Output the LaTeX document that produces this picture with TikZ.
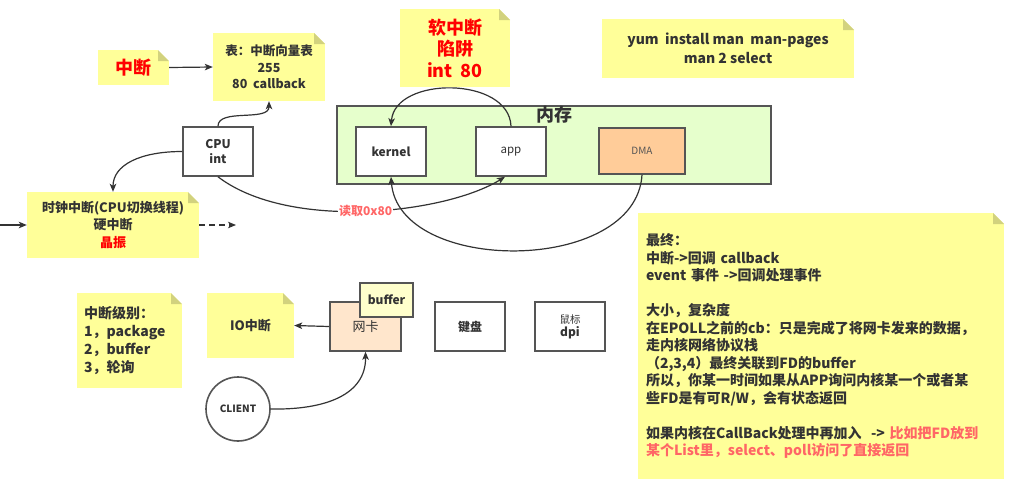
\documentclass[tikz,border=0pt]{standalone}
\usepackage{fontspec}
\setmainfont{Noto Sans CJK SC}
\usetikzlibrary{arrows.meta}
\definecolor{noteY}{HTML}{FFFF99}
\definecolor{foldc}{HTML}{D2D27E}
\definecolor{boxc}{HTML}{555555}
\definecolor{txt}{HTML}{333333}
\definecolor{linec}{HTML}{333333}
\definecolor{memg}{HTML}{E6FFCC}
\definecolor{dmac}{HTML}{FFCC99}
\definecolor{nicc}{HTML}{FFE6CC}
\definecolor{bufc}{HTML}{FFFFCC}
\definecolor{lred}{HTML}{FF6666}
\definecolor{hred}{HTML}{FF0000}
\tikzset{
  fnt/.style 2 args={font=\fontsize{#1}{#2}\selectfont\bfseries},
  fntr/.style 2 args={font=\fontsize{#1}{#2}\selectfont},
  notebox/.style={fill=noteY, inner sep=0pt, align=center, text=txt,
    path picture={
      \fill[white] ([xshift=-11pt]path picture bounding box.north east) -- (path picture bounding box.north east) -- ([yshift=-11pt]path picture bounding box.north east) -- cycle;
      \fill[foldc] ([xshift=-11pt]path picture bounding box.north east) -- ([xshift=-11pt,yshift=-11pt]path picture bounding box.north east) -- ([yshift=-11pt]path picture bounding box.north east) -- cycle;
    }},
  plainbox/.style={draw=boxc, line width=1.6pt, fill=white, inner sep=0pt, align=center, text=txt},
  conn/.style={draw=linec, line width=1.2pt, -{Stealth[length=8pt,width=6.5pt,inset=2pt]}},
}
\begin{document}
\begin{tikzpicture}[x=1pt,y=-1pt]
\useasboundingbox[fill=white] (0,0) rectangle (1017,493);

% notes top
\node[notebox, minimum width=71pt, minimum height=35pt, fnt={18}{20}, text=hred] (zd) at (133.5,67.5) {中断};
\node[notebox, minimum width=112pt, minimum height=68pt, fnt={12.5}{16.5}] (tbl) at (269,67) {表：中断向量表\\255\\80\ \ callback};
\node[notebox, minimum width=110pt, minimum height=78pt, fnt={18}{21.5}, text=hred] (soft) at (455,48) {软中断\\陷阱\\int\ \ 80};
\node[notebox, minimum width=252pt, minimum height=59pt, fnt={14}{19}] (yum) at (728,48.5) {yum\ \ install man\ \ man-pages\\man 2 select};

% CPU and clock
\node[plainbox, minimum width=70pt, minimum height=49pt, fnt={12}{14.5}] (cpu) at (218,151.5) {CPU\\int};
\node[notebox, minimum width=172pt, minimum height=66pt, fnt={13}{17.5}] (clk) at (113,225) {时钟中断(CPU切换线程)\\硬中断\\\textcolor{hred}{晶振}};

% memory
\node[draw=boxc, line width=1.6pt, fill=memg, minimum width=434pt, minimum height=78pt, inner sep=0pt,
  label={[fnt={18}{20}, text=txt, anchor=north, inner sep=1pt]north:内存}] (mem) at (554,145) {};
\node[plainbox, minimum width=70pt, minimum height=49pt, fnt={12}{14}] (kernel) at (391,151.5) {kernel};
\node[plainbox, minimum width=70pt, minimum height=49pt, fntr={11.5}{14}] (app) at (511,151.5) {app};
\node[plainbox, fill=dmac, minimum width=86pt, minimum height=46pt, fntr={10}{12}, text=boxc] (dma) at (642,151) {DMA};

% big note
\node[notebox, minimum width=366pt, minimum height=266pt, text width=350pt, align=left, fnt={14}{17.5}] (fin) at (821,346) {最终：\\
中断->回调 callback\\
event 事件 ->回调处理事件\\
~\\
大小，复杂度\\
在EPOLL之前的cb：只是完成了将网卡发来的数据，\\
走内核网络协议栈\\
（2,3,4）最终关联到FD的buffer\\
所以，你某一时间如果从APP询问内核某一个或者某\\
些FD是有可R/W，会有状态返回\\
~\\
如果内核在CallBack处理中再加入\ \ -> \textcolor{lred}{比如把FD放到}\\
\textcolor{lred}{某个List里，select、poll访问了直接返回}};

% bottom left
\node[notebox, minimum width=105pt, minimum height=95pt, text width=91pt, align=left, fnt={14}{18}] (lvl) at (129.5,340.5) {中断级别：\\1，package\\2，buffer\\3，轮询};
\node[notebox, minimum width=87pt, minimum height=65pt, fnt={13}{16}] (io) at (250.5,325.5) {IO中断};
\node[plainbox, fill=nicc, minimum width=71pt, minimum height=49pt, fntr={13}{16}] (nic) at (365.5,326.5) {网卡};
\node[plainbox, fill=bufc, minimum width=53pt, minimum height=34pt, fnt={12}{14}] (buf) at (386.5,300) {buffer};
\node[plainbox, minimum width=70pt, minimum height=49pt, fnt={12}{14}] (kb) at (470,326.5) {键盘};
\node[plainbox, minimum width=70pt, minimum height=49pt, fnt={12}{13}] (mouse) at (570,326.5) {{\fontsize{10.5}{13}\selectfont\mdseries 鼠标}\\dpi};
\node[draw=boxc, line width=1.6pt, fill=white, circle, minimum size=64pt, inner sep=0pt, fnt={10}{12}, text=txt] (client) at (238,409) {CLIENT};

% connectors
\coordinate (lstub) at (0,225);
\coordinate (dend) at (236,225);
\draw[conn] (zd.east) -- (tbl.west);
\draw[conn] (cpu.north) .. controls (218,108) and (269,122) .. (tbl.south);
\draw[conn] (cpu.west) .. controls (140,151.5) and (113,165) .. (clk.north);
\draw[conn] (lstub) -- (clk.west);
\draw[conn, dash pattern=on 6pt off 4pt] (clk.east) -- (dend);
\draw[conn] (cpu.south) .. controls (289,231) and (445,214) .. ([xshift=-6pt]app.south)
  node[pos=0.5, fill=white, inner sep=1pt, text=lred, fnt={12}{14}] (rd) {读取0x80};
\draw[conn] (app.north) .. controls (509,76) and (395,76) .. (kernel.north);
\draw[conn] (dma.south) .. controls (636,275) and (398,275) .. (kernel.south);
\draw[conn] (nic.west) -- (io.east);
\draw[conn] (client.east) .. controls (325,410) and (366,395) .. (nic.south);
\end{tikzpicture}
\end{document}
